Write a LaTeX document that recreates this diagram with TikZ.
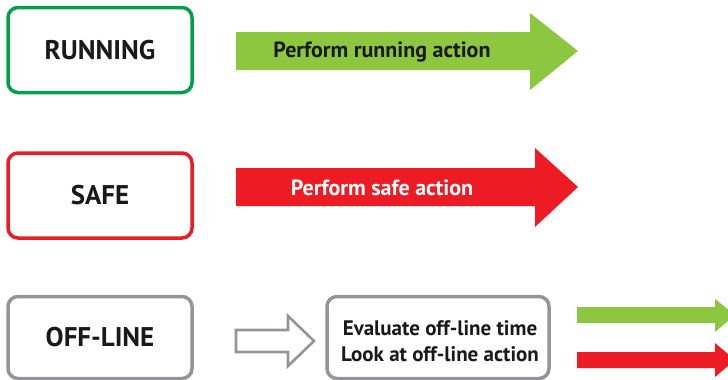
\documentclass[tikz,border=0pt]{standalone}
\usepackage{fontspec}
\setmainfont{PT Sans}
\definecolor{rgreen}{RGB}{0,160,75}
\definecolor{lgreen}{RGB}{141,198,63}
\definecolor{rred}{RGB}{237,28,36}
\definecolor{rgray}{RGB}{147,149,152}
\tikzset{
  statebox/.style={draw, line width=3.5pt, rounded corners=10pt, fill=white,
    minimum width=184pt, minimum height=85pt, inner sep=0pt,
    font=\fontsize{27}{31}\selectfont\bfseries, text=black!90},
  evalbox/.style={draw=rgray, line width=3.5pt, rounded corners=10pt, fill=white,
    minimum width=222pt, minimum height=82pt, inner sep=0pt, align=center,
    font=\fontsize{21}{26}\selectfont\bfseries, text=black!90},
  arrowtext/.style={font=\fontsize{22}{26}\selectfont\bfseries, inner sep=0pt},
}
\begin{document}
\begin{tikzpicture}[x=1pt,y=-1pt]
\useasboundingbox (0,0) rectangle (728,380);
% state boxes
\node[statebox, draw=rgreen] (running) at (100,50) {RUNNING};
\node[statebox, draw=rred] (safe) at (100,195.5) {SAFE};
\node[statebox, draw=rgray, minimum height=82pt] (offline) at (100,337.5) {OFF-LINE};
% big arrows
\fill[lgreen] (236,32) -- (530,32) -- (530,13) -- (578,51) -- (530,90) -- (530,70) -- (236,70) -- cycle;
\node[arrowtext, text=black!90] (runact) at (382,52) {Perform running action};
\fill[rred] (236,168) -- (535,168) -- (535,148) -- (578,187) -- (535,227) -- (535,206) -- (236,206) -- cycle;
\node[arrowtext, text=white] (safeact) at (382,187.5) {Perform safe action};
% hollow arrow
\draw[rgray, line width=2.6pt, line join=miter] (236,330) -- (288,330) -- (288,316) -- (314,341) -- (288,366) -- (288,352) -- (236,352) -- cycle;
\coordinate (hollow) at (314,341);
% evaluate box
\node[evalbox] (eval) at (438,337.5) {};
\node[font=\fontsize{21}{26}\selectfont\bfseries, text=black!90, align=center, inner sep=0pt] (evaltext) at (440,341) {Evaluate off-line time\\Look at off-line action};
% small arrows
\fill[lgreen] (577,307) -- (715,307) -- (715,299) -- (735,315) -- (715,332) -- (715,323) -- (577,323) -- cycle;
\fill[rred] (577,352) -- (715,352) -- (715,343) -- (735,360) -- (715,377) -- (715,368) -- (577,368) -- cycle;
\end{tikzpicture}
\end{document}
